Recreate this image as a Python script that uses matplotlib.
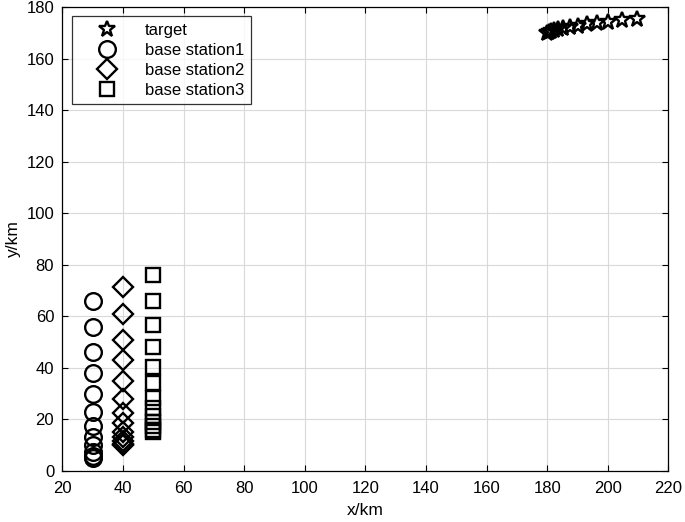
import matplotlib
matplotlib.use("Agg")
import matplotlib.pyplot as plt

plt.rcParams['font.family'] = ['Liberation Sans', 'DejaVu Sans']

target_x = [180.0, 180.6, 181.3, 182.2, 183.5, 185.2, 187.4, 190.0, 193.0, 196.5, 200.2, 204.5, 209.5]
target_y = [169.8, 170.2, 170.6, 171.0, 171.4, 171.8, 172.3, 172.8, 173.3, 173.8, 174.3, 174.8, 175.3]

bs1_x = [30] * 12
bs1_y = [66, 56, 46, 38, 30, 23, 17.5, 13, 10, 7.5, 6, 5]
bs2_x = [40] * 13
bs2_y = [71.5, 61, 51, 43, 35, 28, 22.5, 18.5, 15, 13, 11.5, 10.5, 10]
bs3_x = [50] * 13
bs3_y = [76, 66, 56.5, 48, 40.5, 34, 28.5, 24.5, 21.5, 19, 17.5, 16, 15]

fig = plt.figure(figsize=(6.85, 5.22), dpi=100)
ax = fig.add_axes([0.0912, 0.0977, 0.8847, 0.8889])

mk = dict(linestyle='none', markerfacecolor='none', markeredgecolor='black', markeredgewidth=1.7)
ax.plot(target_x, target_y, marker='*', markersize=12, label='target', **mk)
ax.plot(bs1_x, bs1_y, marker='o', markersize=12, label='base station1', **mk)
ax.plot(bs2_x, bs2_y, marker='D', markersize=10.5, label='base station2', **mk)
ax.plot(bs3_x, bs3_y, marker='s', markersize=10, label='base station3', **mk)

ax.set_xlim(20, 220)
ax.set_ylim(0, 180)
ax.set_xticks(range(20, 221, 20))
ax.set_yticks(range(0, 181, 20))
ax.grid(True, color='#d9d9d9', linewidth=0.8)
ax.set_axisbelow(True)
ax.tick_params(direction='in', labelsize=12, length=4, top=True, right=True)
ax.tick_params(axis='x', pad=7)
ax.tick_params(axis='y', pad=6)
ax.set_xlabel('x/km', fontsize=12.5, labelpad=5)
ax.set_ylabel('y/km', fontsize=12.5, labelpad=4)
for s in ax.spines.values():
    s.set_linewidth(0.9)

leg = ax.legend(loc='upper left', fontsize=12, frameon=True, fancybox=False,
                edgecolor='black', borderpad=0.4, labelspacing=0.3,
                handlelength=3.4, handletextpad=0.6, borderaxespad=0.55)
leg.get_frame().set_linewidth(0.9)

fig.savefig('out.png', dpi=100)
